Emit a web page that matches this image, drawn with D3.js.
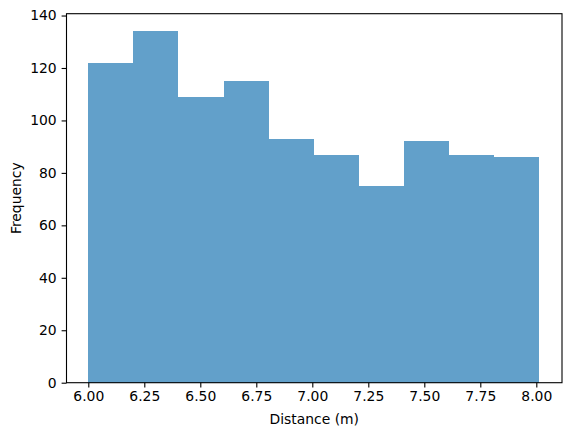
<!DOCTYPE html>
<html><head><meta charset="utf-8">
<script src="https://cdn.jsdelivr.net/npm/d3@7"></script>
<style>html,body{margin:0;padding:0;background:#fff;}svg{display:block;}</style>
</head><body>
<script>
const binEdges = [6.000, 6.201, 6.402, 6.604, 6.805, 7.006, 7.207, 7.408, 7.610, 7.811, 8.012];
const counts = [122, 134, 109, 115, 93, 87, 75, 92, 87, 86];
const xTicks = [6.00, 6.25, 6.50, 6.75, 7.00, 7.25, 7.50, 7.75, 8.00];
const yTicks = [0, 20, 40, 60, 80, 100, 120, 140];
const xLabel = "Distance (m)";
const yLabel = "Frequency";

const W = 571, H = 436;
const L = 66.5, R = 562, T = 13.7, B = 382.7;
const font = "'DejaVu Sans', sans-serif";
const fs = 13.9;

const svg = d3.select("body").append("svg").attr("width", W).attr("height", H);
const x = d3.scaleLinear().domain([5.9027, 8.1147]).range([L, R]);
const y = d3.scaleLinear().domain([0, 140.7]).range([B, T]);

const bins = counts.map((c, i) => ({x0: binEdges[i], x1: binEdges[i + 1], c}));
svg.append("g").selectAll("rect").data(bins).join("rect")
  .attr("x", d => x(d.x0)).attr("width", d => x(d.x1) - x(d.x0))
  .attr("y", d => y(d.c)).attr("height", d => y(0) - y(d.c))
  .attr("fill", "#1f77b4").attr("fill-opacity", 0.7)
  .attr("shape-rendering", "crispEdges");

const xAxis = d3.axisBottom(x).tickValues(xTicks).tickFormat(d3.format(".2f")).tickSize(4.9).tickPadding(3.6);
const gx = svg.append("g").attr("transform", `translate(0,${B})`).call(xAxis);
const yAxis = d3.axisLeft(y).tickValues(yTicks).tickFormat(d3.format("d")).tickSize(4.9).tickPadding(4.9);
const gy = svg.append("g").attr("transform", `translate(${L},0)`).call(yAxis);
[gx, gy].forEach(g => {
  g.select(".domain").remove();
  g.selectAll("line").attr("stroke", "#000").attr("stroke-width", 1.1);
  g.selectAll("text").attr("font-family", font).attr("font-size", fs).attr("fill", "#000");
});

svg.append("rect").attr("x", L).attr("y", T).attr("width", R - L).attr("height", B - T)
  .attr("fill", "none").attr("stroke", "#000").attr("stroke-width", 1.1);

svg.append("text").attr("x", (L + R) / 2).attr("y", 424).attr("text-anchor", "middle")
  .attr("font-family", font).attr("font-size", fs).text(xLabel);
svg.append("text").attr("transform", `translate(21,${(T + B) / 2}) rotate(-90)`).attr("text-anchor", "middle")
  .attr("font-family", font).attr("font-size", fs).text(yLabel);
</script>
</body></html>
